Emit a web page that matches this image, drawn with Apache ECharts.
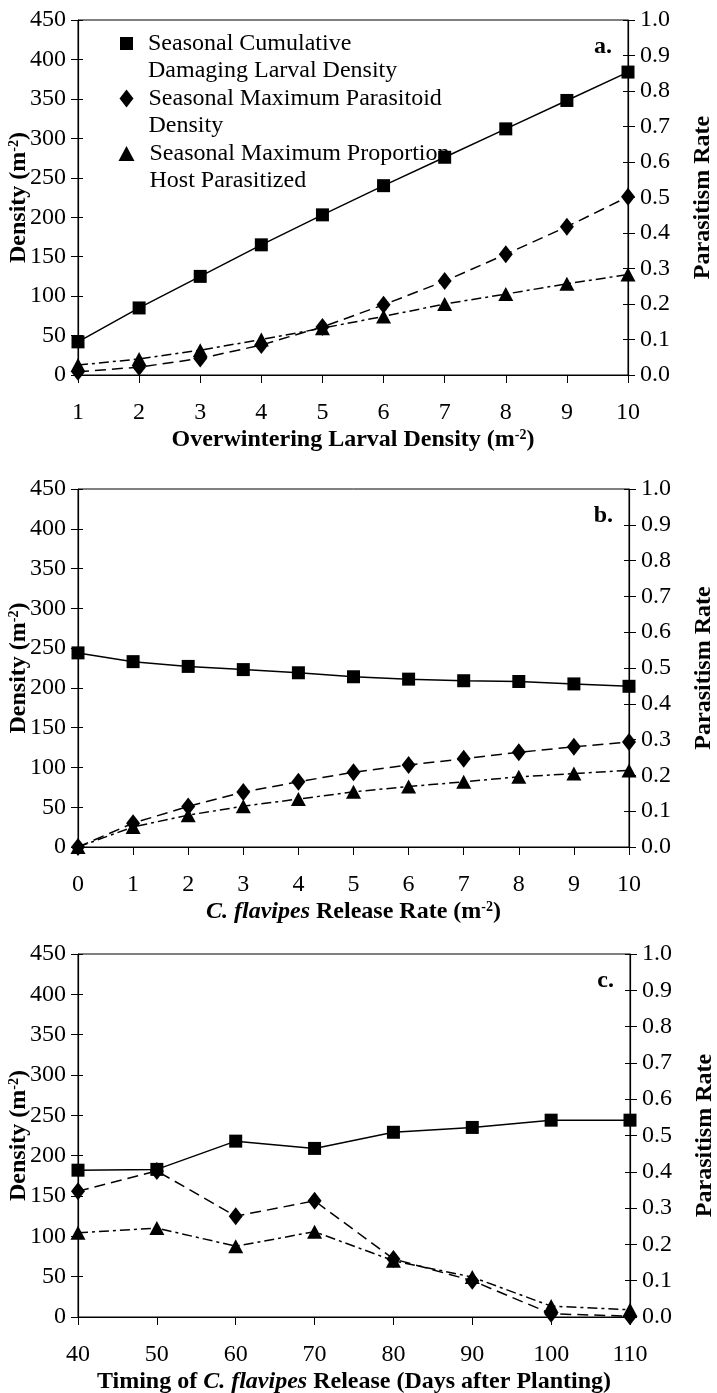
<!DOCTYPE html>
<html>
<head>
<meta charset="utf-8">
<script src="https://cdn.jsdelivr.net/npm/echarts@6/dist/echarts.min.js"></script>
<style>
  html, body { margin: 0; padding: 0; background: #fff; }
  #chart { width: 717px; height: 1393px; }
</style>
</head>
<body>
<div id="chart"></div>
<script>
// series names
const nameDmg = 'Seasonal Cumulative Damaging Larval Density';
const namePar = 'Seasonal Maximum Parasitoid Density';
const nameProp = 'Seasonal Maximum Proportion Host Parasitized';

// panel a: overwintering larval density
const xA = [1, 2, 3, 4, 5, 6, 7, 8, 9, 10];
const dmgA = [42, 85, 125, 165, 203, 240, 276, 312, 348, 384];
const parA = [4, 10, 21, 38, 61, 89, 119, 153, 188, 226];
const propA = [0.028, 0.045, 0.07, 0.1, 0.132, 0.165, 0.2, 0.228, 0.257, 0.283];

// panel b: release rate
const xB = [0, 1, 2, 3, 4, 5, 6, 7, 8, 9, 10];
const dmgB = [244, 233, 227, 223, 219, 214, 211, 209, 208, 205, 202];
const parB = [0, 30, 51, 69, 82, 94, 103, 111, 119, 126, 132];
const propB = [0, 0.056, 0.089, 0.114, 0.134, 0.154, 0.169, 0.182, 0.196, 0.205, 0.214];

// panel c: timing of release
const xC = [40, 50, 60, 70, 80, 90, 100, 110];
const dmgC = [182, 183, 218, 209, 229, 235, 244, 244];
const parC = [156, 181, 125, 144, 72, 45, 4, 1];
const propC = [0.232, 0.245, 0.195, 0.235, 0.155, 0.11, 0.03, 0.02];

const font = 'Liberation Serif';
const fs = 24;
const black = '#000';

const panels = [
  { x: xA, dmg: dmgA, par: parA, prop: propA, min: 1, max: 10, step: 1, top: 20, height: 355, right: 89, tag: 'a.',
    title: '{b|Overwintering Larval Density (m}{sup|-2}{b|)}' },
  { x: xB, dmg: dmgB, par: parB, prop: propB, min: 0, max: 10, step: 1, top: 489, height: 358, right: 88, tag: 'b.',
    title: '{bi|C. flavipes}{b| Release Rate (m}{sup|-2}{b|)}' },
  { x: xC, dmg: dmgC, par: parC, prop: propC, min: 40, max: 110, step: 10, top: 954, height: 363, right: 87, tag: 'c.',
    title: '{b|Timing of }{bi|C. flavipes}{b| Release (Days after Planting)}' }
];

const rich = {
  b: { fontFamily: font, fontSize: fs, fontWeight: 'bold', color: black },
  bi: { fontFamily: font, fontSize: fs, fontWeight: 'bold', fontStyle: 'italic', color: black },
  sup: { fontFamily: font, fontSize: 14, fontWeight: 'bold', color: black, verticalAlign: 'top', padding: [0, 0, 10, 0] }
};

const tickLabel = { color: black, fontFamily: font, fontSize: fs };
const line = { lineStyle: { color: black, width: 1.2 } };

const grid = [], xAxis = [], yAxis = [], series = [], title = [];

panels.forEach((p, g) => {
  grid.push({ left: 78, right: p.right, top: p.top, height: p.height, show: true, borderColor: black, borderWidth: 1,
    outerBoundsMode: 'none', containLabel: false });
  title.push({ text: p.tag, right: p.right + 11, top: p.top + 10,
    textStyle: { fontFamily: font, fontSize: fs, fontWeight: 'bold', color: black } });

  xAxis.push({
    type: 'value', gridIndex: g, min: p.min, max: p.max, interval: p.step,
    axisLine: line, axisTick: { length: 8, lineStyle: { color: black } },
    axisLabel: Object.assign({ margin: 26 }, tickLabel), splitLine: { show: false },
    name: p.title, nameLocation: 'middle', nameGap: 53, nameMoveOverlap: false, nameTextStyle: { rich: rich }
  });
  xAxis.push({
    type: 'value', gridIndex: g, min: p.min, max: p.max, interval: p.step,
    axisLine: { show: false }, axisTick: { inside: true, length: 5, lineStyle: { color: black } },
    axisLabel: { show: false }, splitLine: { show: false }
  });

  const leftBase = {
    type: 'value', gridIndex: g, min: 0, max: 450, interval: 50, position: 'left', splitLine: { show: false }
  };
  yAxis.push(Object.assign({}, leftBase, {
    axisLine: Object.assign({ show: true }, line), axisTick: { show: true, length: 7, lineStyle: { color: black } },
    axisLabel: Object.assign({ margin: 12 }, tickLabel),
    name: '{b|Density (m}{sup|-2}{b|)}', nameLocation: 'middle', nameRotate: 90, nameGap: 47,
    nameMoveOverlap: false, nameTextStyle: { rich: rich }
  }));
  yAxis.push(Object.assign({}, leftBase, {
    axisLine: { show: false }, axisTick: { show: true, inside: true, length: 5, lineStyle: { color: black } },
    axisLabel: { show: false }
  }));
  const rightBase = {
    type: 'value', gridIndex: g, min: 0, max: 1, interval: 0.1, position: 'right', splitLine: { show: false }
  };
  yAxis.push(Object.assign({}, rightBase, {
    axisLine: Object.assign({ show: true }, line), axisTick: { show: true, length: 7, lineStyle: { color: black } },
    axisLabel: Object.assign({ margin: 12, formatter: v => v.toFixed(1) }, tickLabel),
    name: '{b|Parasitism Rate}', nameLocation: 'middle', nameRotate: 90, nameGap: 63,
    nameMoveOverlap: false, nameTextStyle: { rich: rich }
  }));
  yAxis.push(Object.assign({}, rightBase, {
    axisLine: { show: false }, axisTick: { show: true, inside: true, length: 5, lineStyle: { color: black } },
    axisLabel: { show: false }
  }));

  const pair = arr => arr.map((v, i) => [p.x[i], v]);
  const common = { type: 'line', xAxisIndex: 2 * g, color: black, silent: true, animation: false, z: 3 };
  series.push(Object.assign({}, common, {
    name: nameDmg, yAxisIndex: 4 * g, data: pair(p.dmg), symbol: 'rect', symbolSize: 13,
    lineStyle: { color: black, width: 1.5, type: 'solid' }, itemStyle: { color: black }
  }));
  series.push(Object.assign({}, common, {
    name: namePar, yAxisIndex: 4 * g, data: pair(p.par), symbol: 'diamond', symbolSize: [14, 18],
    lineStyle: { color: black, width: 1.5, type: [11, 6] }, itemStyle: { color: black }
  }));
  series.push(Object.assign({}, common, {
    name: nameProp, yAxisIndex: 4 * g + 2, data: pair(p.prop), symbol: 'triangle', symbolSize: [15, 14],
    lineStyle: { color: black, width: 1.5, type: [10, 4, 3, 4] }, itemStyle: { color: black }
  }));
});

// legend, one block per series; a leading blank line puts the marker on the first text line
const legendText = { fontFamily: font, fontSize: fs, color: black, lineHeight: 27, padding: [0, 0, 0, 10] };
const legendRows = [
  { name: nameDmg, icon: 'rect', w: 13, h: 13, top: 3, label: ' \nSeasonal Cumulative\nDamaging Larval Density' },
  { name: namePar, icon: 'diamond', w: 14, h: 18, top: 58, label: ' \nSeasonal Maximum Parasitoid\nDensity' },
  { name: nameProp, icon: 'triangle', w: 16, h: 15, top: 113, label: ' \nSeasonal Maximum Proportion\nHost Parasitized' }
];
const legend = legendRows.map(r => ({
  data: [{ name: r.name, icon: r.icon }], left: 120 - (r.w - 13) / 2, top: r.top, padding: 0,
  itemWidth: r.w, itemHeight: r.h, selectedMode: false,
  formatter: () => r.label, textStyle: legendText
}));

const chart = echarts.init(document.getElementById('chart'), null, { renderer: 'canvas' });
chart.setOption({
  backgroundColor: '#fff',
  animation: false,
  title: title,
  legend: legend,
  grid: grid,
  xAxis: xAxis,
  yAxis: yAxis,
  series: series
});
</script>
</body>
</html>
